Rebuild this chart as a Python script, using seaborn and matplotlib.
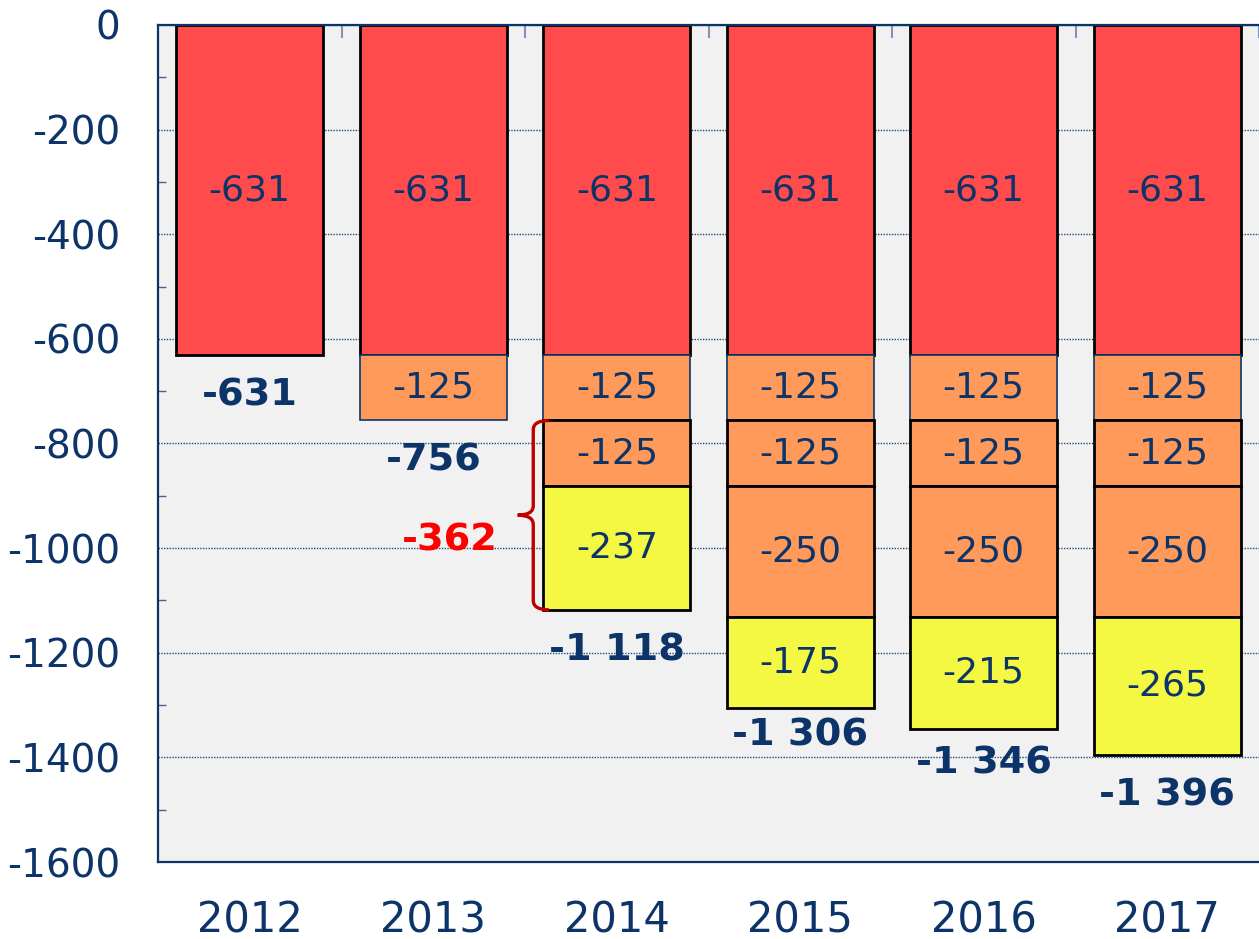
import numpy as np
import pandas as pd
import matplotlib
matplotlib.use("Agg")
import matplotlib.pyplot as plt
from matplotlib.path import Path
from matplotlib.patches import PathPatch
from matplotlib.ticker import MultipleLocator
import seaborn as sns

# ---------------- data ----------------
years = ["2012", "2013", "2014", "2015", "2016", "2017"]
cut_base = [-631, -631, -631, -631, -631, -631]
cut_2013 = [None, -125, -125, -125, -125, -125]
cut_2014 = [None, None, -125, -125, -125, -125]
cut_2015 = [None, None, None, -250, -250, -250]
cut_extra = [None, None, -237, -175, -215, -265]
brace_year = "2014"
y_ticks = [0, -200, -400, -600, -800, -1000, -1200, -1400, -1600]

layers = [cut_base, cut_2013, cut_2014, cut_2015, cut_extra]
layer_colors = ["#ff4b4b", "#ff9a5b", "#ff9a5b", "#ff9a5b", "#f5f842"]
layer_edges = ["#000000", "#0c3468", "#000000", "#000000", "#000000"]
layer_lw = [2.0, 1.2, 2.0, 2.0, 2.0]
total_nudge = [0, 0, 0, 9, 4, 0]  # label placement tweaks (points)

NAVY = "#0c3468"
TICK = "#4a6690"

# ---------------- build stacked table ----------------
rows = []
running = {y: 0 for y in years}
for li, layer in enumerate(layers):
    for y, v in zip(years, layer):
        if v is None:
            continue
        rows.append({"layer": li, "year": y, "value": v, "bottom": running[y]})
        running[y] += v
df = pd.DataFrame(rows)
totals = [running[y] for y in years]

plt.rcParams["axes.unicode_minus"] = False
sns.set_style("white")
plt.rcParams["font.family"] = ["DejaVu Sans"]

fig = plt.figure(figsize=(12.59, 9.39), dpi=100)
ax = fig.add_axes([158 / 1259, 1 - 862 / 939, 1 - 158 / 1259, (862 - 25) / 939])
ax.set_facecolor("#f1f1f1")

for li in range(len(layers)):
    sub = df[df["layer"] == li]
    sns.barplot(data=sub, x="year", y="value", order=years, ax=ax,
                bottom=sub["bottom"].values, color=layer_colors[li],
                edgecolor=layer_edges[li], linewidth=layer_lw[li],
                errorbar=None, width=0.8, saturation=1)
    cont = ax.containers[-1]
    ax.bar_label(cont, labels=[f"{int(v)}" for v in sub["value"]],
                 label_type="center", fontsize=26, color=NAVY)

def fmt(v):
    return f"{int(v):,}".replace(",", " ")

for i, t in enumerate(totals):
    ax.annotate(fmt(t), xy=(i, t), xytext=(0, -16 + total_nudge[i]),
                textcoords="offset points", ha="center", va="top",
                fontsize=27.5, fontweight="bold", color=NAVY)

# ---------------- brace for 2014 increment ----------------
bi = years.index(brace_year)
b_top = df[(df["year"] == brace_year) & (df["layer"] == 2)]["bottom"].iloc[0]
b_bot = totals[bi]
b_mid = (b_top + b_bot) / 2
half_w = 0.4
xv = bi - half_w - 0.055
xr = bi - half_w + 0.03
xl = xv - 0.085
r = 18
verts = [(xr, b_top), (xv, b_top), (xv, b_top - r), (xv, b_mid + r),
         (xv, b_mid), (xl, b_mid), (xv, b_mid), (xv, b_mid - r),
         (xv, b_bot + r), (xv, b_bot), (xr, b_bot)]
codes = [Path.MOVETO, Path.CURVE3, Path.CURVE3, Path.LINETO,
         Path.CURVE3, Path.CURVE3, Path.CURVE3, Path.CURVE3,
         Path.LINETO, Path.CURVE3, Path.CURVE3]
ax.add_patch(PathPatch(Path(verts, codes), facecolor="none",
                       edgecolor="#c00000", linewidth=2.4, zorder=5))
ax.annotate(fmt(b_bot - b_top), xy=(xl, b_mid), xytext=(-14, -18),
            textcoords="offset points", ha="right", va="center",
            fontsize=27.5, fontweight="bold", color="#ff0000")

# ---------------- axes styling ----------------
ax.set_xlim(-0.5, len(years) - 0.5)
ax.set_ylim(-1600, 0)
ax.set_yticks(y_ticks)
ax.yaxis.set_minor_locator(MultipleLocator(100))
ax.set_xticks(np.arange(len(years)) + 0.5, minor=True)
ax.set_xlabel("")
ax.set_ylabel("")

ax.yaxis.grid(True, which="major", linestyle=(0, (1, 1)), color="#1f4e80", linewidth=1)
ax.xaxis.grid(False)
ax.set_axisbelow(True)

ax.tick_params(axis="y", which="major", direction="out", length=9, width=1.2,
               color=TICK, labelsize=28, labelcolor=NAVY, pad=18)
ax.tick_params(axis="y", which="minor", direction="in", length=6, width=1.0,
               color=TICK, left=True)
ax.tick_params(axis="x", which="major", length=0, labelsize=30, labelcolor=NAVY, pad=27)
ax.tick_params(axis="x", which="minor", top=True, bottom=False, direction="in",
               length=9.5, width=1.5, color="#8095b5")

for s in ["left", "bottom", "top"]:
    ax.spines[s].set_visible(True)
    ax.spines[s].set_color(NAVY)
    ax.spines[s].set_linewidth(1.6)
ax.spines["right"].set_visible(False)

fig.savefig("out.png", dpi=100)
